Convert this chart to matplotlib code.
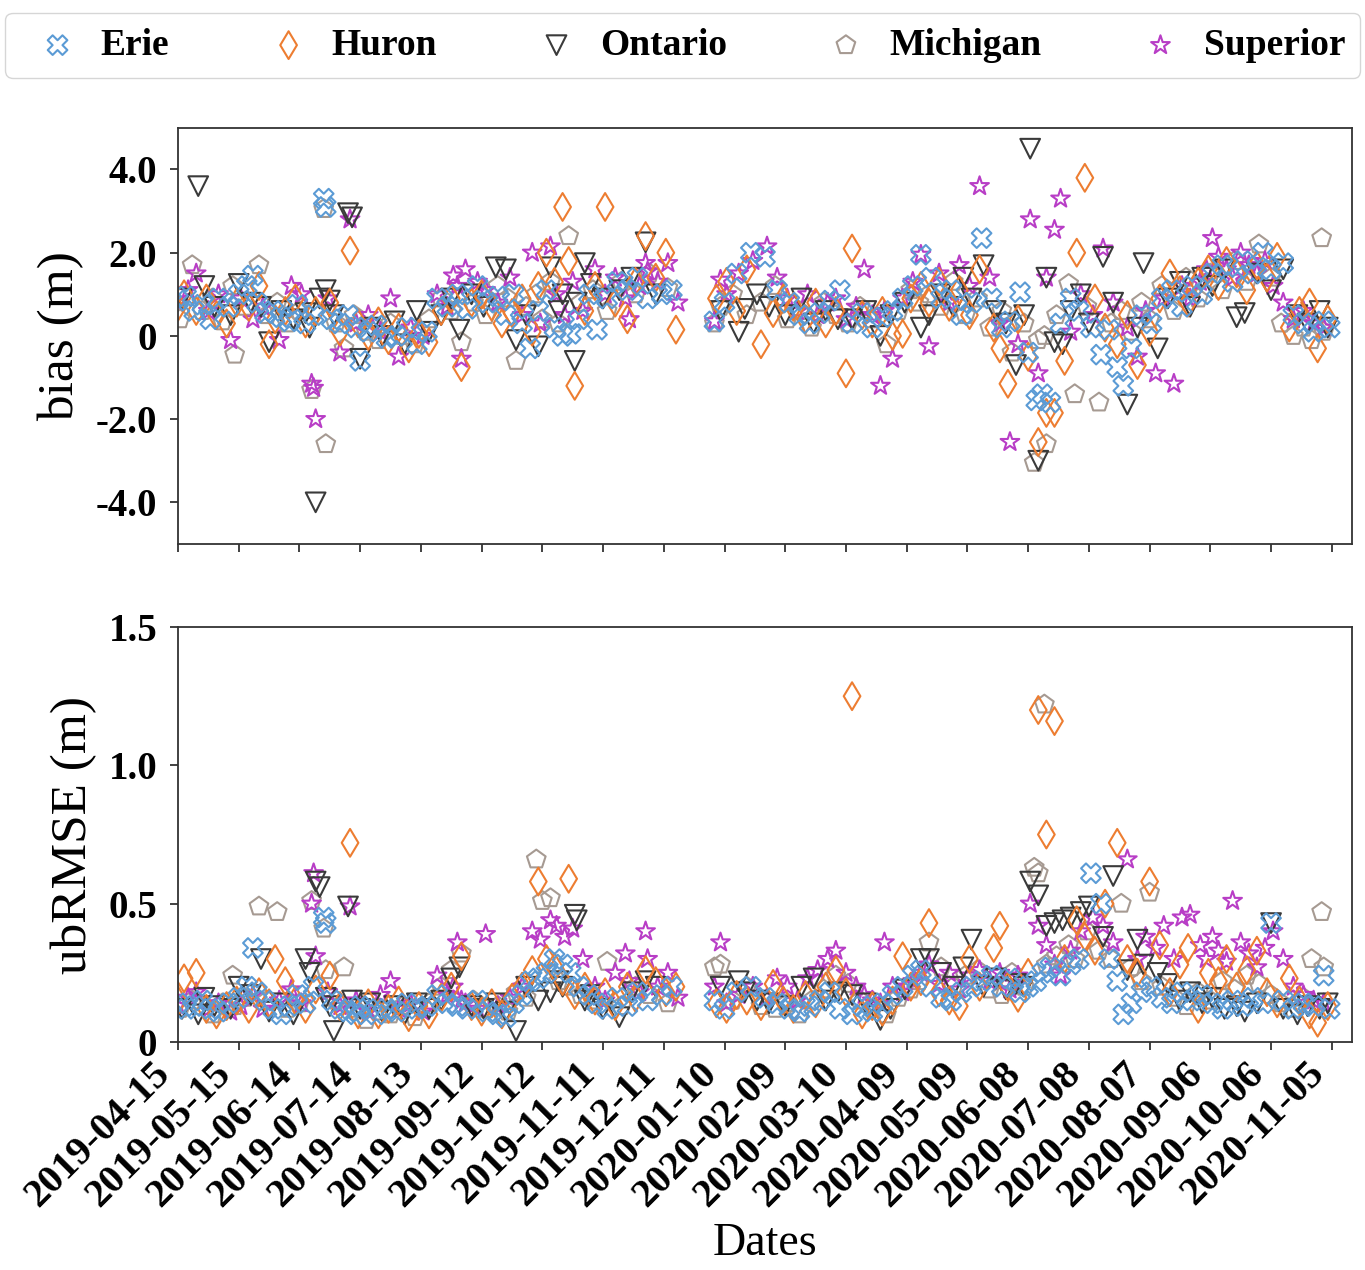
import pandas as pd
import matplotlib
matplotlib.use('Agg')
import matplotlib.pyplot as plt

plt.rcParams['font.family'] = ['Liberation Serif', 'DejaVu Serif']

# day offsets counted from the first tick date
start = pd.Timestamp('2019-04-15')

erie_day = [0, 4, 8, 12, 16, 20, 25, 30, 34, 37,
            39, 43, 47, 51, 55, 59, 63, 67, 72, 73,
            76, 80, 84, 88, 90, 94, 98, 103, 108, 113,
            118, 123, 128, 133, 138, 143, 148, 153, 158, 162,
            166, 170, 174, 178, 182, 186, 190, 194, 198, 203,
            207, 212, 217, 222, 227, 232, 239, 244, 265, 270,
            276, 283, 290, 296, 302, 307, 312, 317, 322, 327,
            333, 338, 343, 348, 353, 358, 363, 367, 372, 377,
            382, 387, 392, 397, 402, 407, 411, 416, 420, 424,
            427, 431, 436, 441, 445, 451, 456, 460, 464, 467,
            471, 476, 481, 486, 491, 496, 501, 506, 511, 516,
            521, 526, 531, 536, 540, 546, 551, 556, 561, 566,
            569]
erie_bias = [0.85, 0.95, 0.6, 0.75, 0.4, 0.9, 0.7, 1.0, 1.2, 1.45,
             0.8, 0.55, 0.6, 0.45, 0.35, 0.75, 0.3, 0.5, 3.3, 3.1,
             0.4, 0.3, 0.5, 0.2, -0.6, 0.1, 0.25, -0.05, 0.0, 0.2,
             -0.2, 0.1, 0.9, 0.7, 1.0, 0.65, 1.2, 0.8, 0.95, 0.5,
             1.0, 0.3, -0.3, 0.6, 1.1, 0.2, 0.0, 0.05, 0.4, 1.0,
             0.15, 0.9, 1.3, 1.1, 1.4, 0.9, 1.0, 1.1, 0.35, 0.8,
             1.5, 2.0, 1.9, 1.1, 0.8, 0.5, 0.3, 0.55, 0.85, 1.1,
             0.3, 0.55, 0.2, 0.45, 0.6, 0.9, 1.2, 1.95, 1.4, 0.9,
             1.1, 0.5, 0.8, 2.35, 0.9, 0.2, 0.35, 1.05, -0.4, -1.55,
             -1.4, -1.6, 0.3, 0.9, 0.6, 0.2, -0.45, 0.15, -0.75, -1.2,
             -0.3, 0.5, 0.3, 0.9, 1.1, 0.7, 1.2, 1.0, 1.5, 1.7,
             1.3, 1.8, 1.5, 2.0, 1.6, 1.75, 0.5, 0.3, 0.1, 0.35,
             0.2]
erie_ubrmse = [0.14, 0.12, 0.13, 0.15, 0.12, 0.11, 0.14, 0.16, 0.2, 0.34,
               0.18, 0.15, 0.12, 0.1, 0.13, 0.17, 0.14, 0.2, 0.45, 0.43,
               0.15, 0.12, 0.11, 0.1, 0.13, 0.12, 0.1, 0.12, 0.11, 0.14,
               0.12, 0.13, 0.17, 0.14, 0.13, 0.12, 0.15, 0.11, 0.1, 0.09,
               0.14, 0.17, 0.22, 0.23, 0.25, 0.3, 0.28, 0.25, 0.2, 0.17,
               0.14, 0.12, 0.16, 0.13, 0.18, 0.15, 0.17, 0.2, 0.15, 0.12,
               0.18, 0.2, 0.16, 0.14, 0.12, 0.11, 0.13, 0.15, 0.18, 0.12,
               0.1, 0.13, 0.11, 0.14, 0.17, 0.2, 0.24, 0.26, 0.2, 0.16,
               0.15, 0.18, 0.2, 0.22, 0.24, 0.2, 0.23, 0.18, 0.2, 0.22,
               0.25, 0.27, 0.24, 0.28, 0.3, 0.61, 0.5, 0.3, 0.22, 0.1,
               0.14, 0.18, 0.2, 0.16, 0.14, 0.18, 0.15, 0.17, 0.14, 0.12,
               0.15, 0.13, 0.16, 0.14, 0.43, 0.15, 0.12, 0.14, 0.13, 0.24,
               0.12]

huron_day = [0, 3, 9, 14, 19, 24, 29, 35, 40, 45,
             48, 53, 58, 63, 68, 75, 80, 85, 89, 94,
             99, 104, 109, 114, 119, 124, 130, 135, 140, 145,
             150, 155, 160, 165, 170, 175, 178, 182, 186, 190,
             193, 196, 201, 206, 211, 216, 222, 226, 231, 236,
             241, 246, 266, 271, 276, 281, 288, 294, 299, 304,
             310, 315, 320, 325, 330, 333, 338, 343, 348, 353,
             358, 362, 367, 371, 376, 381, 386, 391, 396, 403,
             406, 410, 415, 420, 425, 429, 433, 438, 444, 448,
             453, 458, 464, 469, 474, 480, 485, 490, 495, 499,
             504, 509, 514, 518, 523, 528, 533, 538, 543, 549,
             554, 559, 563, 568]
huron_bias = [0.7, 1.0, 0.6, 0.9, 0.5, 0.3, 0.8, 0.7, 1.2, -0.2,
              0.4, 0.6, 0.9, 0.3, 0.6, 0.8, 0.1, 2.05, 0.3, 0.0,
              0.35, -0.1, 0.2, -0.3, 0.05, -0.15, 0.6, 0.9, -0.75, 0.8,
              1.0, 0.7, 0.3, 0.55, 0.9, 0.1, 1.2, 2.0, 1.3, 3.1,
              1.8, -1.2, 0.6, 1.2, 3.1, 0.8, 0.4, 1.3, 2.4, 1.4,
              2.0, 0.15, 0.9, 1.3, 0.6, 1.6, -0.2, 0.55, 0.9, 0.7,
              0.4, 0.8, 0.3, 0.6, -0.9, 2.1, 0.5, 0.3, 0.6, 0.0,
              0.05, 0.9, 1.2, 0.8, 1.3, 0.7, 1.1, 0.5, 1.6, 0.2,
              -0.3, -1.15, 0.4, -0.5, -2.55, -1.85, -1.85, -0.6, 2.0, 3.8,
              0.9, 0.2, -0.2, 0.5, -0.7, 0.1, 0.9, 1.5, 1.1, 0.8,
              1.3, 1.6, 1.2, 1.8, 1.5, 1.1, 1.7, 1.4, 1.9, 0.2,
              0.6, 0.8, -0.3, 0.4]
huron_ubrmse = [0.15, 0.23, 0.25, 0.12, 0.1, 0.13, 0.15, 0.12, 0.18, 0.14,
                0.3, 0.22, 0.15, 0.12, 0.19, 0.24, 0.13, 0.72, 0.1, 0.14,
                0.1, 0.12, 0.15, 0.09, 0.13, 0.1, 0.16, 0.2, 0.31, 0.13,
                0.11, 0.14, 0.1, 0.16, 0.2, 0.26, 0.58, 0.3, 0.27, 0.22,
                0.59, 0.17, 0.2, 0.15, 0.18, 0.13, 0.2, 0.16, 0.26, 0.22,
                0.18, 0.2, 0.14, 0.12, 0.17, 0.15, 0.13, 0.21, 0.15, 0.12,
                0.17, 0.14, 0.2, 0.26, 0.18, 1.25, 0.1, 0.13, 0.11, 0.15,
                0.31, 0.2, 0.22, 0.43, 0.18, 0.15, 0.13, 0.3, 0.2, 0.34,
                0.42, 0.2, 0.16, 0.25, 1.2, 0.75, 1.16, 0.3, 0.44, 0.38,
                0.33, 0.5, 0.72, 0.3, 0.25, 0.58, 0.35, 0.18, 0.28, 0.34,
                0.12, 0.25, 0.22, 0.3, 0.2, 0.26, 0.33, 0.18, 0.14, 0.23,
                0.15, 0.1, 0.07, 0.13]

ontario_day = [2, 10, 13, 18, 26, 30, 36, 41, 45, 51,
               57, 63, 65, 68, 70, 73, 75, 77, 84, 86,
               90, 95, 101, 107, 112, 118, 124, 130, 135, 139,
               145, 151, 157, 162, 167, 172, 178, 184, 188, 190,
               196, 197, 201, 204, 210, 218, 224, 231, 236, 268,
               277, 280, 286, 292, 300, 308, 314, 320, 326, 333,
               340, 347, 352, 359, 367, 371, 377, 383, 388, 392,
               398, 404, 409, 414, 418, 421, 425, 429, 433, 437,
               441, 446, 450, 457, 462, 469, 474, 477, 484, 489,
               495, 500, 506, 511, 517, 523, 527, 533, 540, 546,
               553, 558, 564, 568]
ontario_bias = [0.9, 3.6, 1.2, 0.7, 0.5, 1.25, 0.8, 0.7, -0.15, 0.6,
                0.4, 0.55, 0.2, -4.0, 0.9, 1.1, 0.85, 0.5, 2.95, 2.85,
                -0.55, 0.2, 0.0, 0.35, -0.2, 0.6, 0.1, 0.5, 0.9, 0.15,
                1.0, 0.7, 1.65, 1.6, -0.1, 0.5, -0.25, 1.65, 0.6, 1.0,
                -0.6, 0.8, 1.75, 1.25, 0.9, 1.1, 1.4, 2.25, 1.0, 0.6,
                0.1, 0.65, 1.0, 0.7, 0.5, 0.9, 0.3, 0.6, 0.4, 0.4,
                0.6, 0.0, 0.5, 0.8, 0.2, 0.5, 1.0, 0.7, 1.4, 0.9,
                1.7, 0.6, 0.3, -0.7, 0.5, 4.5, -3.0, 1.4, -0.15, -0.2,
                0.6, 1.0, 0.3, 1.9, 0.8, -1.65, 0.2, 1.75, -0.3, 0.9,
                1.3, 0.7, 1.4, 1.2, 1.6, 0.45, 0.55, 1.5, 1.1, 1.6,
                0.5, 0.3, 0.6, 0.2]
ontario_ubrmse = [0.12, 0.1, 0.16, 0.13, 0.12, 0.2, 0.17, 0.3, 0.11, 0.14,
                  0.1, 0.3, 0.25, 0.58, 0.56, 0.16, 0.13, 0.04, 0.49, 0.15,
                  0.12, 0.14, 0.11, 0.13, 0.1, 0.14, 0.12, 0.15, 0.23, 0.27,
                  0.13, 0.12, 0.14, 0.11, 0.04, 0.2, 0.15, 0.18, 0.22, 0.2,
                  0.46, 0.44, 0.15, 0.17, 0.12, 0.09, 0.18, 0.22, 0.2, 0.2,
                  0.22, 0.18, 0.15, 0.14, 0.13, 0.2, 0.23, 0.15, 0.18, 0.17,
                  0.14, 0.08, 0.12, 0.19, 0.3, 0.3, 0.25, 0.2, 0.27, 0.37,
                  0.2, 0.23, 0.19, 0.21, 0.2, 0.58, 0.53, 0.42, 0.43, 0.44,
                  0.45, 0.47, 0.49, 0.38, 0.6, 0.26, 0.37, 0.28, 0.25, 0.21,
                  0.15, 0.18, 0.14, 0.16, 0.12, 0.13, 0.11, 0.14, 0.43, 0.12,
                  0.1, 0.13, 0.12, 0.14]

michigan_day = [1, 7, 12, 17, 22, 27, 28, 33, 40, 44,
                49, 54, 60, 66, 72, 73, 78, 82, 87, 93,
                99, 105, 111, 117, 124, 130, 135, 140, 146, 152,
                158, 163, 167, 172, 177, 180, 184, 188, 193, 199,
                205, 212, 219, 226, 233, 242, 265, 268, 274, 281,
                288, 295, 301, 307, 313, 319, 325, 331, 337, 343,
                350, 356, 362, 366, 371, 377, 383, 389, 395, 401,
                407, 412, 418, 423, 425, 428, 429, 434, 440, 443,
                449, 455, 461, 466, 471, 476, 480, 486, 492, 498,
                504, 510, 516, 522, 528, 534, 540, 545, 551, 556,
                560, 565, 566]
michigan_bias = [0.4, 1.7, 0.6, 0.9, 0.35, 1.2, -0.45, 0.7, 1.7, 0.5,
                 0.8, 0.3, 0.6, -1.3, 3.05, -2.6, 0.3, -0.3, 0.5, 0.1,
                 -0.1, 0.3, 0.0, -0.2, 0.4, 0.9, 0.6, -0.15, 0.8, 0.5,
                 1.2, 0.9, -0.6, 0.7, 1.0, 0.4, 1.3, 0.3, 2.4, 0.8,
                 1.1, 0.6, 1.3, 1.0, 1.5, 1.15, 0.3, 0.7, 1.0, 0.5,
                 0.8, 1.2, 0.4, 0.6, 0.2, 0.8, 0.5, 0.3, 0.7, 0.4,
                 -0.2, 0.6, 1.1, 0.8, 1.0, 0.7, 1.3, 0.5, 0.9, 0.2,
                 0.6, -0.4, 0.3, -3.05, -0.1, 0.0, -2.6, 0.5, 1.25, -1.4,
                 0.7, -1.6, 0.3, 0.6, 0.1, 0.8, 0.4, 1.2, 0.6, 1.4,
                 0.9, 1.5, 1.1, 1.8, 1.3, 2.2, 1.4, 0.3, 0.0, 0.2,
                 -0.1, 2.35, 0.1]
michigan_ubrmse = [0.12, 0.15, 0.13, 0.1, 0.14, 0.24, 0.13, 0.16, 0.49, 0.15,
                   0.47, 0.12, 0.14, 0.51, 0.41, 0.26, 0.15, 0.27, 0.12, 0.08,
                   0.11, 0.1, 0.13, 0.09, 0.14, 0.2, 0.26, 0.32, 0.15, 0.12,
                   0.13, 0.11, 0.18, 0.16, 0.66, 0.51, 0.52, 0.22, 0.2, 0.17,
                   0.15, 0.29, 0.13, 0.2, 0.17, 0.14, 0.27, 0.28, 0.15, 0.2,
                   0.13, 0.12, 0.14, 0.1, 0.15, 0.19, 0.24, 0.21, 0.15, 0.12,
                   0.1, 0.16, 0.19, 0.22, 0.36, 0.27, 0.2, 0.24, 0.26, 0.19,
                   0.17, 0.25, 0.2, 0.63, 0.61, 1.22, 0.28, 0.31, 0.35, 0.3,
                   0.4, 0.33, 0.3, 0.5, 0.27, 0.22, 0.54, 0.2, 0.16, 0.13,
                   0.18, 0.15, 0.22, 0.19, 0.24, 0.21, 0.17, 0.14, 0.12, 0.16,
                   0.3, 0.47, 0.27]

superior_day = [0, 5, 9, 15, 20, 26, 31, 37, 42, 50,
                56, 61, 66, 67, 68, 74, 80, 85, 88, 94,
                100, 105, 109, 115, 121, 128, 133, 136, 138, 140,
                142, 148, 152, 158, 164, 170, 175, 179, 184, 187,
                191, 195, 200, 206, 211, 216, 221, 223, 228, 231,
                232, 237, 242, 247, 265, 268, 271, 277, 284, 291,
                296, 301, 306, 311, 316, 321, 325, 330, 335, 339,
                343, 347, 349, 353, 358, 363, 367, 371, 376, 381,
                386, 391, 396, 401, 406, 411, 415, 421, 425, 429,
                433, 436, 441, 446, 452, 457, 462, 469, 474, 478,
                483, 487, 492, 496, 500, 505, 508, 511, 514, 518,
                521, 525, 529, 533, 537, 541, 546, 551, 556, 561,
                566]
superior_bias = [0.8, 1.1, 1.5, 0.6, 1.0, -0.1, 0.9, 0.4, 0.7, -0.1,
                 1.2, 1.0, -1.15, -1.25, -2.0, 0.9, -0.4, 2.8, 0.3, 0.5,
                 0.1, 0.9, -0.5, 0.2, 0.0, 1.0, 0.7, 1.45, 1.2, -0.55,
                 1.6, 1.3, 1.1, 0.8, 1.4, 0.5, 2.0, 0.3, 2.15, 1.0,
                 0.5, 1.3, 0.6, 1.6, 1.0, 1.4, 0.9, 0.4, 1.2, 1.75,
                 1.55, 1.3, 1.75, 0.8, 0.35, 1.35, 1.0, 1.5, 1.8, 2.15,
                 1.4, 0.9, 0.6, 1.0, 0.5, 0.8, 0.9, 0.4, 0.7, 1.6,
                 0.5, -1.2, 0.6, -0.55, 0.9, 1.3, 1.95, -0.25, 1.5, 0.8,
                 1.7, 1.2, 3.6, 1.4, 0.3, -2.55, -0.2, 2.8, -0.9, 1.4,
                 2.55, 3.3, 0.1, 1.0, 0.5, 2.1, 0.8, 0.2, -0.5, 0.6,
                 -0.9, 0.9, -1.15, 1.2, 0.9, 1.3, 1.6, 2.35, 1.9, 1.6,
                 1.4, 2.0, 1.7, 1.5, 1.8, 1.2, 0.8, 0.4, 0.6, 0.3,
                 0.2]
superior_ubrmse = [0.13, 0.16, 0.18, 0.12, 0.14, 0.11, 0.13, 0.17, 0.12, 0.15,
                   0.19, 0.14, 0.5, 0.61, 0.31, 0.18, 0.13, 0.49, 0.15, 0.11,
                   0.17, 0.22, 0.12, 0.14, 0.11, 0.24, 0.17, 0.2, 0.36, 0.15,
                   0.14, 0.12, 0.39, 0.13, 0.16, 0.2, 0.4, 0.37, 0.44, 0.42,
                   0.38, 0.41, 0.3, 0.2, 0.15, 0.25, 0.32, 0.22, 0.18, 0.4,
                   0.3, 0.2, 0.25, 0.16, 0.2, 0.36, 0.14, 0.17, 0.2, 0.16,
                   0.23, 0.2, 0.15, 0.23, 0.26, 0.3, 0.33, 0.25, 0.2, 0.17,
                   0.15, 0.14, 0.36, 0.2, 0.18, 0.22, 0.25, 0.28, 0.21, 0.25,
                   0.19, 0.24, 0.26, 0.22, 0.25, 0.19, 0.24, 0.5, 0.42, 0.35,
                   0.28, 0.24, 0.33, 0.4, 0.45, 0.42, 0.36, 0.66, 0.3, 0.38,
                   0.34, 0.42, 0.3, 0.45, 0.46, 0.35, 0.3, 0.38, 0.33, 0.29,
                   0.51, 0.36, 0.32, 0.27, 0.34, 0.4, 0.3, 0.2, 0.17, 0.15,
                   0.14]

lake_names = ['Erie', 'Huron', 'Ontario', 'Michigan', 'Superior']
lake_markers = ['X', 'd', 'v', 'p', '*']
lake_colors = ['#5b9bd5', '#ed7d31', '#3a3a3a', '#a69a92', '#b83dc6']

bias_yticks = [-4, -2, 0, 2, 4]
bias_ylabels = ['-4.0', '-2.0', '0', '2.0', '4.0']
ub_yticks = [0, 0.5, 1.0, 1.5]
ub_ylabels = ['0', '0.5', '1.0', '1.5']

data = {
    'Erie': (erie_day, erie_bias, erie_ubrmse),
    'Huron': (huron_day, huron_bias, huron_ubrmse),
    'Ontario': (ontario_day, ontario_bias, ontario_ubrmse),
    'Michigan': (michigan_day, michigan_bias, michigan_ubrmse),
    'Superior': (superior_day, superior_bias, superior_ubrmse),
}

fig = plt.figure(figsize=(13.65, 12.7), dpi=100)
ax1 = fig.add_axes([0.1304, 0.5717, 0.8601, 0.3276])
ax2 = fig.add_axes([0.1304, 0.1795, 0.8601, 0.3268], sharex=ax1)

handles = {}
# blue crosses end up on top, like in the figure
for name in ['Michigan', 'Superior', 'Ontario', 'Huron', 'Erie']:
    i = lake_names.index(name)
    days, bias, ub = data[name]
    dates = start + pd.to_timedelta(days, unit='D')
    kw = dict(marker=lake_markers[i], s=200, facecolors='none',
              edgecolors=lake_colors[i], linewidths=1.5)
    handles[name] = ax1.scatter(dates, bias, **kw)
    ax2.scatter(dates, ub, **kw)

tick_dates = pd.date_range('2019-04-15', periods=20, freq='30D')
ax1.set_xlim(start, start + pd.Timedelta(days=580))
ax2.set_xticks(tick_dates)
ax2.set_xticklabels([d.strftime('%Y-%m-%d') for d in tick_dates],
                    rotation=45, ha='right', fontsize=29, fontweight='bold')
ax1.tick_params(axis='x', labelbottom=False)

ax1.set_ylim(-5, 5)
ax1.set_yticks(bias_yticks)
ax1.set_yticklabels(bias_ylabels, fontsize=28, fontweight='bold')
ax2.set_ylim(0, 1.5)
ax2.set_yticks(ub_yticks)
ax2.set_yticklabels(ub_ylabels, fontsize=28, fontweight='bold')

for ax in (ax1, ax2):
    ax.tick_params(length=6, width=1.3, color='#333333')
    ax.tick_params(axis='y', pad=9)
    for sp in ax.spines.values():
        sp.set_linewidth(1.3)
        sp.set_color('#333333')

ax1.set_ylabel('bias (m)', fontsize=37, labelpad=8)
ax2.set_ylabel('ubRMSE (m)', fontsize=37, labelpad=8)
ax2.set_xlabel('Dates', fontsize=33, labelpad=6)

fig.legend([handles[n] for n in lake_names], lake_names,
           loc='lower left', bbox_to_anchor=(0.0037, 0.9386, 0.9927, 0.052),
           mode='expand', ncol=5, borderaxespad=0, borderpad=0.4,
           handlelength=2.0, handletextpad=0.15, scatterpoints=1,
           prop={'weight': 'bold', 'size': 27}, edgecolor='#cccccc')

fig.savefig('out.png', dpi=100)
